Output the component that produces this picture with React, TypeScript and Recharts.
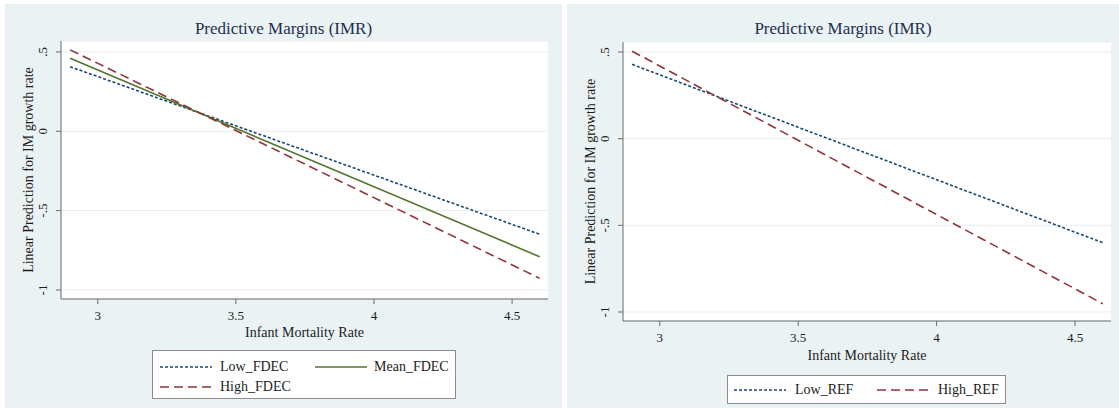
import { LineChart, Line, XAxis, YAxis, CartesianGrid } from "recharts";

// ---------------------------------------------------------------------------
// Data
// ---------------------------------------------------------------------------

const IMR = [2.9, 4.6];

const LOW_FDEC = [0.407, -0.649];
const MEAN_FDEC = [0.46, -0.791];
const HIGH_FDEC = [0.513, -0.927];

const LOW_REF = [0.429, -0.6];
const HIGH_REF = [0.505, -0.952];

const X_TICKS = [3, 3.5, 4, 4.5];
const Y_TICKS = [-1, -0.5, 0, 0.5];

const TITLE = "Predictive Margins (IMR)";
const X_TITLE = "Infant Mortality Rate";
const Y_TITLE = "Linear Prediction for IM growth rate";

// ---------------------------------------------------------------------------
// Style
// ---------------------------------------------------------------------------

const FONT = '"Liberation Serif", "Times New Roman", serif';
const BG = "#eaf2f3";
const GRID = "#e6eef0";
const AXIS = "#6b6b6b";
const TEXT = "#1c1c1c";
const TITLE_C = "#1e2f4f";
const NAVY = "#1a476f";
const GREEN = "#55752f";
const MAROON = "#90353b";

const X_DOMAIN = [2.867, 4.63];
const YW = 50;
const XH = 30;

function fmtY(v: number) {
  if (v === 0) return "0";
  return String(v).replace("0.", ".");
}

interface Series {
  key: string;
  name: string;
  color: string;
  dash?: string;
  values: number[];
}

interface Geo {
  left: number;
  top: number;
  w: number;
  h: number;
  plotL: number;
  plotT: number;
  plotR: number;
  plotB: number;
  yDomain: number[];
}

function YTick(props: any) {
  const { x, y, payload } = props;
  const bx = x - 6.5;
  return (
    <text
      x={bx}
      y={y}
      transform={`rotate(-90 ${bx} ${y})`}
      textAnchor="middle"
      fontFamily={FONT}
      fontSize={13}
      fill={TEXT}
    >
      {fmtY(payload.value)}
    </text>
  );
}

function XTick(props: any) {
  const { x, y, payload } = props;
  return (
    <text x={x} y={y + 13.5} textAnchor="middle" fontFamily={FONT} fontSize={13} fill={TEXT}>
      {String(payload.value)}
    </text>
  );
}

function Sample({ s, x, cy }: { s: Series; x: number; cy: number }) {
  return (
    <svg
      width={52}
      height={6}
      style={{ position: "absolute", left: x, top: cy - 3 }}
    >
      <line x1={0} y1={3} x2={52} y2={3} stroke={s.color} strokeWidth={1.6} strokeDasharray={s.dash} />
    </svg>
  );
}

function LegendText({ label, x, cy }: { label: string; x: number; cy: number }) {
  return (
    <span
      style={{
        position: "absolute",
        left: x,
        top: cy - 8,
        lineHeight: "16px",
        fontSize: 14,
        fontFamily: FONT,
        color: TEXT,
        whiteSpace: "nowrap",
      }}
    >
      {label}
    </span>
  );
}

interface LegendItem {
  s: Series;
  sx: number;
  tx: number;
  cy: number;
}

function Panel({
  geo,
  series,
  legendBox,
  legendItems,
  xTitleGap,
}: {
  geo: Geo;
  series: Series[];
  legendBox: { x: number; y: number; w: number; h: number };
  legendItems: LegendItem[];
  xTitleGap: number;
}) {
  const rows = IMR.map((x, i) => {
    const r: Record<string, number> = { x };
    series.forEach((s) => (r[s.key] = s.values[i]));
    return r;
  });
  const plotMidY = (geo.plotT + geo.plotB) / 2;

  return (
    <div
      style={{
        position: "absolute",
        left: geo.left,
        top: geo.top,
        width: geo.w,
        height: geo.h,
        background: BG,
      }}
    >
      <div
        style={{
          position: "absolute",
          left: 0,
          top: 15,
          width: geo.w,
          textAlign: "center",
          lineHeight: "20px",
          fontSize: 17,
          fontFamily: FONT,
          color: TITLE_C,
        }}
      >
        {TITLE}
      </div>

      <LineChart
        width={geo.w}
        height={geo.h}
        data={rows}
        margin={{
          top: geo.plotT,
          left: geo.plotL - YW,
          right: geo.w - geo.plotR,
          bottom: geo.h - geo.plotB - XH,
        }}
      >
        <CartesianGrid vertical={false} stroke={GRID} fill="#ffffff" />
        <XAxis
          type="number"
          dataKey="x"
          domain={X_DOMAIN}
          ticks={X_TICKS}
          allowDataOverflow
          height={XH}
          tickSize={5}
          tickMargin={2}
          stroke={AXIS}
          tick={<XTick />}
          label={{
            value: X_TITLE,
            content: () => (
              <text
                x={(geo.plotL + geo.plotR) / 2}
                y={geo.plotB + xTitleGap}
                textAnchor="middle"
                fontFamily={FONT}
                fontSize={14}
                fill={TEXT}
              >
                {X_TITLE}
              </text>
            ),
          }}
        />
        <YAxis
          type="number"
          domain={geo.yDomain}
          ticks={Y_TICKS}
          allowDataOverflow
          width={YW}
          tickSize={5}
          tickMargin={2}
          stroke={AXIS}
          tick={<YTick />}
          label={{
            value: Y_TITLE,
            content: () => (
              <text
                x={28}
                y={plotMidY}
                transform={`rotate(-90 28 ${plotMidY})`}
                textAnchor="middle"
                fontFamily={FONT}
                fontSize={14}
                fill={TEXT}
              >
                {Y_TITLE}
              </text>
            ),
          }}
        />
        {series.map((s) => (
          <Line
            key={s.key}
            type="linear"
            dataKey={s.key}
            name={s.name}
            stroke={s.color}
            strokeWidth={1.6}
            strokeDasharray={s.dash}
            dot={false}
            activeDot={false}
            isAnimationActive={false}
          />
        ))}
      </LineChart>

      <div
        style={{
          position: "absolute",
          left: legendBox.x,
          top: legendBox.y,
          width: legendBox.w,
          height: legendBox.h,
          boxSizing: "border-box",
          background: "#ffffff",
          border: "1px solid #8c8c8c",
        }}
      >
        {legendItems.map((it) => (
          <div key={it.s.key}>
            <Sample s={it.s} x={it.sx} cy={it.cy} />
            <LegendText label={it.s.name} x={it.tx} cy={it.cy} />
          </div>
        ))}
      </div>
    </div>
  );
}

export default function App() {
  const lowF: Series = { key: "low", name: "Low_FDEC", color: NAVY, dash: "3 2", values: LOW_FDEC };
  const meanF: Series = { key: "mean", name: "Mean_FDEC", color: GREEN, values: MEAN_FDEC };
  const highF: Series = { key: "high", name: "High_FDEC", color: MAROON, dash: "9 5", values: HIGH_FDEC };
  const lowR: Series = { key: "low", name: "Low_REF", color: NAVY, dash: "3 2", values: LOW_REF };
  const highR: Series = { key: "high", name: "High_REF", color: MAROON, dash: "9 5", values: HIGH_REF };

  return (
    <div style={{ position: "absolute", left: 0, top: 0, width: 1119, height: 409, background: "#ffffff" }}>
      <Panel
        geo={{ left: 5, top: 4, w: 557, h: 404, plotL: 56, plotT: 37, plotR: 543, plotB: 295, yDomain: [-1.057, 0.569] }}
        series={[lowF, meanF, highF]}
        legendBox={{ x: 147, y: 346, w: 304, h: 49 }}
        legendItems={[
          { s: lowF, sx: 7, tx: 67, cy: 16 },
          { s: meanF, sx: 162, tx: 221, cy: 16 },
          { s: highF, sx: 7, tx: 67, cy: 36 },
        ]}
        xTitleGap={38}
      />
      <Panel
        geo={{ left: 567, top: 4, w: 552, h: 404, plotL: 56, plotT: 38, plotR: 544, plotB: 317, yDomain: [-1.052, 0.558] }}
        series={[lowR, highR]}
        legendBox={{ x: 160, y: 371, w: 279, h: 29 }}
        legendItems={[
          { s: lowR, sx: 6, tx: 67, cy: 14 },
          { s: highR, sx: 149, tx: 210, cy: 14 },
        ]}
        xTitleGap={39}
      />
    </div>
  );
}
